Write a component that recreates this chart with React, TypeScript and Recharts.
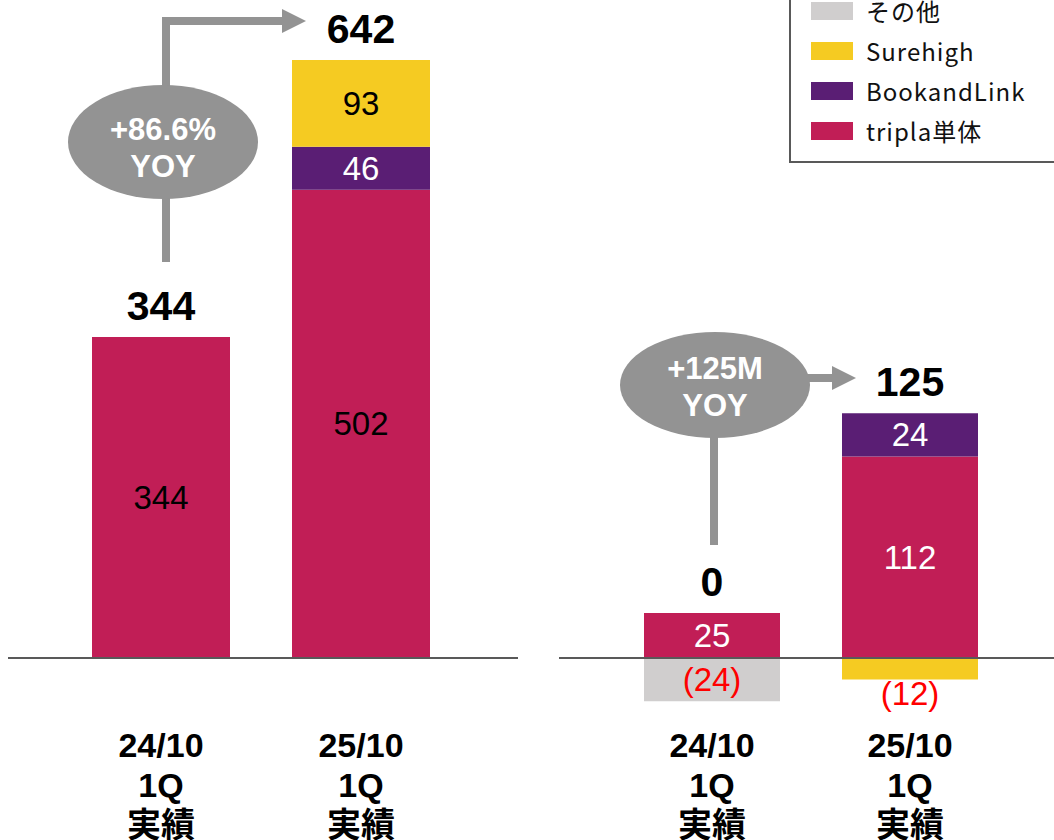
import React from 'react';
import { ComposedChart, Bar, Line, XAxis, YAxis, ReferenceLine, LabelList, Legend, Customized } from 'recharts';

const categories = ['24/10\n1Q\n実績', '25/10\n1Q\n実績'];
const seriesKeys = ['s0', 's1', 's2', 's3'];
const seriesNames = ['tripla単体', 'BookandLink', 'Surehigh', 'その他'];
const seriesColors = ['#C11E56', '#5A1E74', '#F5CB22', '#D0CECE'];

// Left panel
const leftTripla = [344, 502];
const leftBookandLink = [null, 46];
const leftSurehigh = [null, 93];
const leftOther = [null, null];
const leftTotal = [344, 642];
const leftGrowth = ['+86.6%', 'YOY'];

// Right panel
const rightTripla = [25, 112];
const rightBookandLink = [null, 24];
const rightSurehigh = [null, -12];
const rightOther = [-24, null];
const rightTotal = [0, 125];
const rightGrowth = ['+125M', 'YOY'];

const NUM_FONT = '"Liberation Sans", Arial, "Noto Sans CJK JP", sans-serif';
const JP_FONT = '"Noto Sans CJK JP", "Noto Sans", sans-serif';
const GRAY = '#939393';

function buildData(series: (number | null)[][], totals: number[]) {
  return categories.map((name, i) => {
    const row: any = { name, total: totals[i] };
    let pos = 0;
    series.forEach((s, k) => {
      row[seriesKeys[k]] = s[i];
      if (s[i] != null && (s[i] as number) > 0) pos += s[i] as number;
    });
    row.posTop = pos;
    return row;
  });
}

const leftData = buildData([leftTripla, leftBookandLink, leftSurehigh, leftOther], leftTotal);
const rightData = buildData([rightTripla, rightBookandLink, rightSurehigh, rightOther], rightTotal);

const geom = (props: any) => {
  const vb = props.viewBox || {};
  const x = props.x ?? vb.x ?? 0;
  const y = props.y ?? vb.y ?? 0;
  const width = props.width ?? vb.width ?? 0;
  const height = props.height ?? vb.height ?? 0;
  return { x: Number(x), y: Number(y), width: Number(width), height: Number(height) };
};

const makeSegLabel = (fill: string) => (props: any) => {
  const { value } = props;
  if (value == null || value === 0 || Array.isArray(value)) return null;
  const { x, y, width, height } = geom(props);
  const top = Math.min(y, y + height);
  const bottom = Math.max(y, y + height);
  const neg = value < 0;
  const cy = neg && bottom - top < 30 ? bottom + 14 : (top + bottom) / 2;
  return (
    <text x={x + width / 2} y={cy} textAnchor="middle" dominantBaseline="central" fontSize={33}
      fontFamily={NUM_FONT} fill={neg ? '#FF0000' : fill}>
      {neg ? `(${Math.abs(value)})` : value}
    </text>
  );
};

const TotalLabel = (props: any) => {
  const { value } = props;
  const { x, y } = geom(props);
  return (
    <text x={x} y={y - 31} textAnchor="middle" dominantBaseline="central" fontSize={41} fontWeight="bold"
      fontFamily={NUM_FONT} fill="#000">{value}</text>
  );
};

const CategoryTick = (props: any) => {
  const { x, payload } = props;
  const lines = String(payload.value).split('\n');
  return (
    <text x={x} textAnchor="middle" fontSize={34} fontWeight="bold" fontFamily={NUM_FONT} fill="#000">
      {lines.map((l, i) => (
        <tspan key={i} x={x} y={757 + i * 40}>{l}</tspan>
      ))}
    </text>
  );
};

const LegendBox = () => {
  const items = seriesNames.map((n, i) => ({ name: n, color: seriesColors[i] })).reverse();
  return (
    <div style={{ boxSizing: 'border-box', width: 300, height: 182, border: '2.5px solid #595959', paddingTop: 7.5, background: '#fff' }}>
      {items.map((it) => (
        <div key={it.name} style={{ display: 'flex', alignItems: 'center', height: 40 }}>
          <span style={{ display: 'inline-block', width: 42, height: 18, background: it.color, marginLeft: 20 }} />
          <span style={{ marginLeft: 13, fontSize: 24, letterSpacing: 1, fontFamily: JP_FONT, color: '#111', lineHeight: '40px' }}>{it.name}</span>
        </div>
      ))}
    </div>
  );
};

const LeftAnnotation = () => (
  <g>
    <polyline points="166,262 166,21 284,21" fill="none" stroke={GRAY} strokeWidth={8} />
    <polygon points="282,9 306,21 282,33" fill={GRAY} />
    <ellipse cx={163} cy={142} rx={95} ry={57} fill={GRAY} />
    <text x={163} y={129} textAnchor="middle" dominantBaseline="central" fontSize={31} fontWeight="bold" fontFamily={NUM_FONT} fill="#fff">{leftGrowth[0]}</text>
    <text x={163} y={166} textAnchor="middle" dominantBaseline="central" fontSize={31} fontWeight="bold" fontFamily={NUM_FONT} fill="#fff">{leftGrowth[1]}</text>
  </g>
);

const RightAnnotation = () => (
  <g transform="translate(-540,0)">
    <line x1={714} y1={420} x2={714} y2={545} stroke={GRAY} strokeWidth={8} />
    <line x1={790} y1={378} x2={834} y2={378} stroke={GRAY} strokeWidth={8} />
    <polygon points="832,366 856,378 832,390" fill={GRAY} />
    <ellipse cx={715} cy={385} rx={95} ry={53} fill={GRAY} />
    <text x={715} y={368} textAnchor="middle" dominantBaseline="central" fontSize={31} fontWeight="bold" fontFamily={NUM_FONT} fill="#fff">{rightGrowth[0]}</text>
    <text x={715} y={405} textAnchor="middle" dominantBaseline="central" fontSize={31} fontWeight="bold" fontFamily={NUM_FONT} fill="#fff">{rightGrowth[1]}</text>
  </g>
);

const leftLabelFills = ['#000', '#fff', '#000', '#000'];
const rightLabelFills = ['#fff', '#fff', '#000', '#000'];

export default function App() {
  return (
    <div style={{ position: 'absolute', left: 0, top: 0, width: 1054, height: 840, overflow: 'hidden', background: '#fff' }}>
      <div style={{ position: 'absolute', left: 0, top: 0 }}>
        <ComposedChart width={530} height={840} data={leftData} margin={{ top: 5, right: 12, bottom: 152, left: 8 }} barSize={138}>
          <XAxis dataKey="name" axisLine={false} tickLine={false} height={30} padding={{ left: 53, right: 57 }} tick={<CategoryTick />} interval={0} />
          <YAxis hide width={0} type="number" domain={[0, 700]} allowDataOverflow scale="linear" />
          {seriesKeys.map((k, i) => (
            <Bar key={k} dataKey={k} name={seriesNames[i]} stackId="a" fill={seriesColors[i]} isAnimationActive={false}>
              <LabelList dataKey={k} content={makeSegLabel(leftLabelFills[i])} />
            </Bar>
          ))}
          <Line dataKey="posTop" stroke="none" dot={false} activeDot={false} legendType="none" isAnimationActive={false}>
            <LabelList dataKey="total" content={TotalLabel} />
          </Line>
          <ReferenceLine y={0} stroke="#595959" strokeWidth={2} />
          <Customized component={LeftAnnotation} />
        </ComposedChart>
      </div>
      <div style={{ position: 'absolute', left: 540, top: 0 }}>
        <ComposedChart width={514} height={840} data={rightData} stackOffset="sign" margin={{ top: 10, right: 0, bottom: 44, left: 19 }} barSize={136}>
          <XAxis dataKey="name" axisLine={false} tickLine={false} height={30} padding={{ left: 54, right: 45 }} tick={<CategoryTick />} interval={0} />
          <YAxis hide width={0} type="number" domain={[-60, 360]} allowDataOverflow scale="linear" />
          {seriesKeys.map((k, i) => (
            <Bar key={k} dataKey={k} name={seriesNames[i]} stackId="a" fill={seriesColors[i]} isAnimationActive={false}>
              <LabelList dataKey={k} content={makeSegLabel(rightLabelFills[i])} />
            </Bar>
          ))}
          <Line dataKey="posTop" stroke="none" dot={false} activeDot={false} legendType="none" isAnimationActive={false}>
            <LabelList dataKey="total" content={TotalLabel} />
          </Line>
          <ReferenceLine y={0} stroke="#595959" strokeWidth={2} />
          <Customized component={RightAnnotation} />
          <Legend layout="vertical" align="center" verticalAlign="middle" content={<LegendBox />}
            wrapperStyle={{ left: 249, top: -19, width: 300, height: 182 }} />
        </ComposedChart>
      </div>
    </div>
  );
}
